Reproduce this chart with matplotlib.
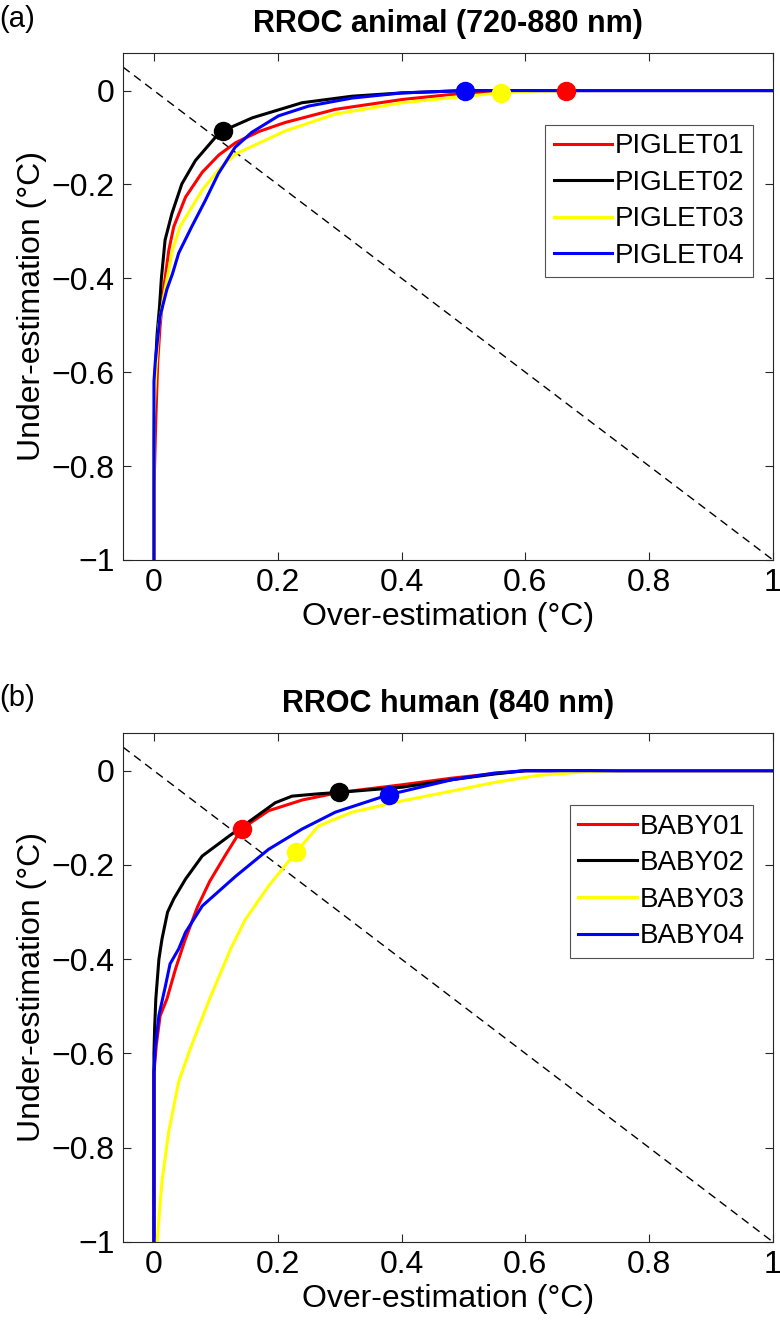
"""
RROC curves - animal (piglet) and human (baby) data
"""
import matplotlib
matplotlib.use("Agg")
import matplotlib.pyplot as plt

plt.rcParams["font.family"] = ["Liberation Sans", "DejaVu Sans"]

# ---- panel (a): piglets ----
piglet_names = ["PIGLET01", "PIGLET02", "PIGLET03", "PIGLET04"]
piglet01_x = [0, 0, 0.003, 0.006, 0.010, 0.016, 0.024, 0.032, 0.051, 0.078, 0.105, 0.132, 0.17, 0.212, 0.293, 0.401, 0.482, 0.56, 0.62, 1.0]
piglet01_y = [-1, -0.85, -0.7, -0.58, -0.5, -0.42, -0.34, -0.29, -0.227, -0.174, -0.137, -0.111, -0.087, -0.068, -0.040, -0.019, -0.008, -0.002, 0, 0]
piglet02_x = [0, 0, 0.002, 0.005, 0.009, 0.012, 0.018, 0.029, 0.045, 0.067, 0.099, 0.111, 0.159, 0.239, 0.320, 0.40, 0.482, 0.52, 1.0]
piglet02_y = [-1, -0.75, -0.6, -0.52, -0.46, -0.40, -0.318, -0.262, -0.199, -0.149, -0.100, -0.086, -0.058, -0.026, -0.012, -0.005, -0.001, 0, 0]
piglet03_x = [0, 0, 0.003, 0.008, 0.018, 0.030, 0.042, 0.078, 0.105, 0.132, 0.212, 0.293, 0.401, 0.482, 0.56, 0.62, 0.7, 1.0]
piglet03_y = [-1, -0.7, -0.6, -0.5, -0.423, -0.34, -0.29, -0.212, -0.168, -0.135, -0.086, -0.050, -0.026, -0.015, -0.005, -0.001, 0, 0]
piglet04_x = [0, 0, 0.002, 0.005, 0.010, 0.021, 0.030, 0.040, 0.061, 0.083, 0.104, 0.131, 0.158, 0.201, 0.250, 0.320, 0.401, 0.482, 0.5, 1.0]
piglet04_y = [-1, -0.62, -0.58, -0.54, -0.48, -0.423, -0.39, -0.346, -0.290, -0.234, -0.177, -0.121, -0.089, -0.054, -0.033, -0.016, -0.005, -0.001, 0, 0]
piglet_opt_x = [0.665, 0.111, 0.561, 0.502]
piglet_opt_y = [0.0, -0.086, -0.006, -0.001]

# ---- panel (b): babies ----
baby_names = ["BABY01", "BABY02", "BABY03", "BABY04"]
baby01_x = [0, 0, 0.004, 0.010, 0.021, 0.035, 0.05, 0.07, 0.09, 0.115, 0.142, 0.185, 0.24, 0.30, 0.40, 0.48, 0.55, 0.6, 1.0]
baby01_y = [-1, -0.64, -0.58, -0.52, -0.484, -0.42, -0.36, -0.29, -0.235, -0.18, -0.123, -0.085, -0.062, -0.046, -0.030, -0.016, -0.006, 0, 0]
baby02_x = [0, 0, 0.001, 0.003, 0.008, 0.013, 0.022, 0.032, 0.051, 0.078, 0.121, 0.159, 0.196, 0.223, 0.266, 0.299, 0.401, 0.482, 0.55, 0.6, 1.0]
baby02_y = [-1, -0.6, -0.55, -0.484, -0.40, -0.357, -0.30, -0.272, -0.23, -0.181, -0.139, -0.103, -0.068, -0.054, -0.049, -0.046, -0.035, -0.019, -0.007, 0, 0]
baby03_x = [0.005, 0.013, 0.024, 0.040, 0.059, 0.09, 0.124, 0.148, 0.185, 0.230, 0.266, 0.320, 0.401, 0.482, 0.55, 0.62, 0.70, 0.75, 1.0]
baby03_y = [-1, -0.871, -0.765, -0.66, -0.589, -0.484, -0.378, -0.315, -0.245, -0.172, -0.117, -0.088, -0.064, -0.043, -0.025, -0.010, -0.002, 0, 0]
baby04_x = [0, 0, 0.002, 0.008, 0.018, 0.026, 0.040, 0.051, 0.078, 0.132, 0.185, 0.239, 0.293, 0.379, 0.482, 0.55, 0.6, 1.0]
baby04_y = [-1, -0.64, -0.589, -0.519, -0.46, -0.41, -0.378, -0.343, -0.287, -0.224, -0.167, -0.124, -0.088, -0.051, -0.019, -0.005, 0, 0]
baby_opt_x = [0.142, 0.299, 0.230, 0.379]
baby_opt_y = [-0.123, -0.046, -0.172, -0.051]

colors = ["#ff0000", "#000000", "#ffff00", "#0000ff"]
xticks = [0, 0.2, 0.4, 0.6, 0.8, 1]
xticklabels = ["0", "0.2", "0.4", "0.6", "0.8", "1"]
yticks = [-1, -0.8, -0.6, -0.4, -0.2, 0]
yticklabels = ["\u22121", "\u22120.8", "\u22120.6", "\u22120.4", "\u22120.2", "0"]

fig = plt.figure(figsize=(7.8, 13.32), dpi=100)
ax_a = fig.add_axes([0.1577, 0.5796, 0.8333, 0.3806])
ax_b = fig.add_axes([0.1577, 0.0676, 0.8333, 0.3821])

panels = [
    (ax_a, "RROC animal (720-880 nm)", "(a)", piglet_names,
     [(piglet01_x, piglet01_y), (piglet02_x, piglet02_y), (piglet03_x, piglet03_y), (piglet04_x, piglet04_y)],
     piglet_opt_x, piglet_opt_y),
    (ax_b, "RROC human (840 nm)", "(b)", baby_names,
     [(baby01_x, baby01_y), (baby02_x, baby02_y), (baby03_x, baby03_y), (baby04_x, baby04_y)],
     baby_opt_x, baby_opt_y),
]

for ax, title, tag, names, curves, opt_x, opt_y in panels:
    # chance line
    ax.plot([-0.05, 1], [0.05, -1], color="black", lw=1.0, ls=(0, (6, 4)), zorder=1)
    for (cx, cy), c, name in zip(curves, colors, names):
        ax.plot(cx, cy, color=c, lw=2.2, label=name, zorder=2)
    for px, py, c in zip(opt_x, opt_y, colors):
        ax.plot(px, py, "o", color=c, ms=13, zorder=3)

    ax.set_xlim(-0.05, 1)
    ax.set_ylim(-1, 0.08)
    ax.set_xticks(xticks)
    ax.set_xticklabels(xticklabels)
    ax.set_yticks(yticks)
    ax.set_yticklabels(yticklabels)
    ax.tick_params(direction="in", length=6, width=0.8, top=True, right=True,
                   labelsize=23, pad=6, colors="#262626", labelcolor="black")
    for sp in ax.spines.values():
        sp.set_linewidth(0.8)
        sp.set_color("#262626")

    ax.set_xlabel("Over-estimation (\u00b0C)", fontsize=23, labelpad=3)
    ax.set_ylabel("Under-estimation (\u00b0C)", fontsize=23, labelpad=3)
    ax.set_title(title, fontsize=22, fontweight="bold", pad=15)
    ax.text(-0.19, 1.068, tag, transform=ax.transAxes, fontsize=21, va="center")

    leg = ax.legend(loc="upper right", bbox_to_anchor=(0.969, 0.858), borderaxespad=0,
                    fontsize=20, frameon=True, fancybox=False, handlelength=2.1,
                    handletextpad=0.1, borderpad=0.3, labelspacing=0.38)
    leg.get_frame().set_edgecolor("#262626")
    leg.get_frame().set_linewidth(0.8)
    for lh in leg.get_lines():
        lh.set_linewidth(2.2)

plt.savefig("out.png", dpi=100)
